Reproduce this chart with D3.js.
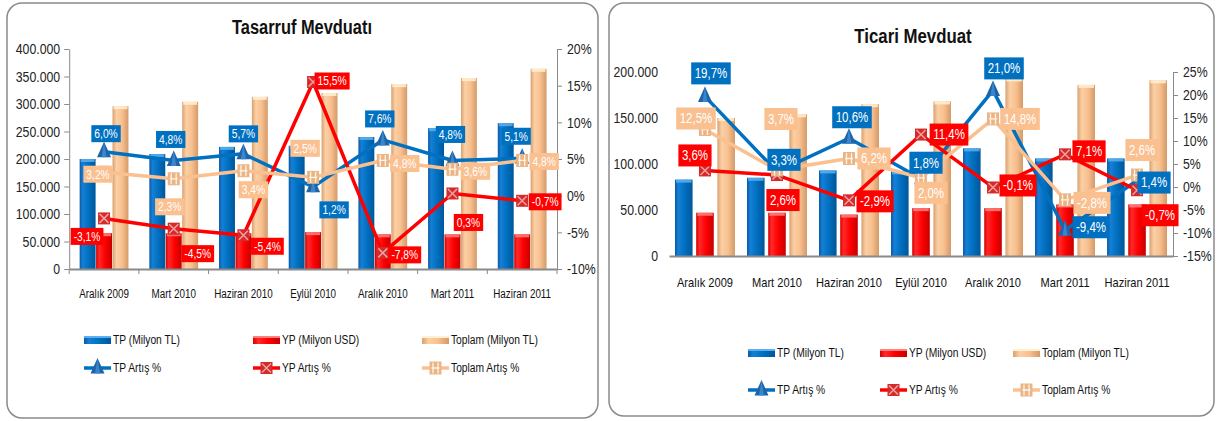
<!DOCTYPE html>
<html><head><meta charset="utf-8">
<script src="https://cdn.jsdelivr.net/npm/d3@7"></script>
<style>
html,body{margin:0;padding:0;background:#fff;}
svg{display:block;}
text{font-family:"Liberation Sans Narrow","Arial Narrow","Liberation Sans",sans-serif;}
</style></head><body>
<svg id="c" width="1219" height="421"></svg>
<script>
// ---------- DATA ----------
const categories = ["Aralık 2009","Mart 2010","Haziran 2010","Eylül 2010","Aralık 2010","Mart 2011","Haziran 2011"];
const barNames = ["TP (Milyon TL)","YP (Milyon USD)","Toplam (Milyon TL)"];
const lineNames = ["TP Artış %","YP Artış %","Toplam Artış %"];

// Tasarruf Mevduatı
const tasTitle = "Tasarruf Mevduatı";
const tasTP = [200000,209000,222000,224000,240000,256000,265000];
const tasYP = [65000,65000,65000,67000,63000,63000,63000];
const tasToplam = [296000,304000,313000,320000,336000,347000,364000];
const tasTPPct = [6.0,4.8,5.7,1.2,7.6,4.8,5.1];
const tasYPPct = [-3.1,-4.5,-5.4,15.5,-7.8,0.3,-0.7];
const tasToplamPct = [3.2,2.3,3.4,2.5,4.8,3.6,4.8];
const tasLeftTicks = [0,50000,100000,150000,200000,250000,300000,350000,400000];
const tasRightTicks = [-10,-5,0,5,10,15,20];

// Ticari Mevduat
const ticTitle = "Ticari Mevduat";
const ticTP = [83000,85000,93000,92000,117000,106000,106000];
const ticYP = [47000,47000,45000,52000,52000,56000,56000];
const ticToplam = [150000,154000,165000,168000,193000,186000,191000];
const ticTPPct = [19.7,3.3,10.6,1.8,21.0,-9.4,1.4];
const ticYPPct = [3.6,2.6,-2.9,11.4,-0.1,7.1,-0.7];
const ticToplamPct = [12.5,3.7,6.2,2.0,14.8,-2.8,2.6];
const ticLeftTicks = [0,50000,100000,150000,200000];
const ticRightTicks = [-15,-10,-5,0,5,10,15,20,25];

// ---------- LAYOUT (label box offsets from point) ----------
const tasLabelOff = [
  [[2,-18],[-3,-21],[0,-20],[21,23],[-3,-21],[-2,-26],[-6,-22]],
  [[-17,18],[24,25],[24,11],[19,-1],[22,2],[16,29],[23,1]],
  [[-6,2],[-4,28],[10,19],[-8,-29],[22,3],[23,2],[22,1]]
];
const ticLabelOff = [
  [[6,-23],[7,-12],[3,-21],[5,-16],[11,-22],[26,-3],[17,2]],
  [[-10,-15],[6,25],[26,1],[28,0],[25,-2],[24,-3],[23,25]],
  [[-9,-11],[4,-51],[25,0],[10,15],[27,0],[27,3],[5,-25]]
];
const SQ = 0.82; // horizontal condensing of text (narrow face)

const loc = d3.formatLocale({decimal:",",thousands:".",grouping:[3],currency:["",""],minus:"-"});
const fmtNum = loc.format(",");
const fmtPct = v => loc.format(".1f")(v) + "%";
const fmtAxisPct = v => loc.format("d")(v) + "%";

function squeeze(node){
  const w = node.getComputedTextLength();
  node.setAttribute("textLength", (w*SQ).toFixed(2));
  node.setAttribute("lengthAdjust","spacingAndGlyphs");
  return w*SQ;
}

const svg = d3.select("#c");
const defs = svg.append("defs");
function hGrad(id, stops){
  const g = defs.append("linearGradient").attr("id",id).attr("x1","0").attr("x2","1").attr("y1","0").attr("y2","0");
  stops.forEach(s=>g.append("stop").attr("offset",s[0]).attr("stop-color",s[1]));
}
hGrad("gBlue",[["0","#0a5aa6"],["0.2","#1580d6"],["0.55","#0070c0"],["1","#00569a"]]);
hGrad("gRed",[["0","#d80000"],["0.2","#ff2a2a"],["0.55","#ff0000"],["1","#c80000"]]);
hGrad("gTan",[["0","#d9a070"],["0.25","#fcd0a4"],["0.6","#f8c090"],["1","#d49a68"]]);
const barFill = ["url(#gBlue)","url(#gRed)","url(#gTan)"];
const capFill = ["#5ab0f0","#ff8080","#fff0d2"];
const lineColor = ["#0070c0","#ff0000","#fac090"];
const labelFill = ["#0070c0","#ff0000","#fac090"];

function marker(g, type, x, y){
  if(type===0){
    g.append("path").attr("d",`M${x},${y-10}L${x-7},${y+5.5}L${x+7},${y+5.5}Z`).attr("fill","#1f64a8");
    g.append("path").attr("d",`M${x},${y-10}L${x-2.5},${y+5.5}L${x+2.5},${y+5.5}Z`).attr("fill","#3a86cc");
  } else if(type===1){
    g.append("rect").attr("x",x-6).attr("y",y-6).attr("width",12).attr("height",12).attr("fill","#d42a2a");
    g.append("path").attr("d",`M${x-4.5},${y-4.5}L${x+4.5},${y+4.5}M${x+4.5},${y-4.5}L${x-4.5},${y+4.5}`).attr("stroke","#f4a0a0").attr("stroke-width",1.5);
  } else {
    g.append("rect").attr("x",x-6).attr("y",y-6.5).attr("width",12).attr("height",13).attr("fill","#e9b588");
    g.append("path").attr("d",`M${x-2.5},${y-5.5}L${x-2.5},${y+5.5}M${x+2.5},${y-5.5}L${x+2.5},${y+5.5}M${x-4},${y}L${x+4},${y}`).attr("stroke","#fff3e0").attr("stroke-width",1.3);
  }
}

function drawChart(cfg){
  const g = svg.append("g");
  // panel
  g.append("rect").attr("x",cfg.panel[0]).attr("y",cfg.panel[1]).attr("width",cfg.panel[2]).attr("height",cfg.panel[3])
    .attr("rx",15).attr("fill","#fff").attr("stroke","#8a8a8a").attr("stroke-width",1.5);
  g.append("text").attr("x",cfg.titleX).attr("y",cfg.titleY).attr("text-anchor","middle")
    .attr("font-size",cfg.titleSize).attr("font-weight","bold").attr("fill","#111").text(cfg.title);

  const x = d3.scaleBand().domain(categories).range([cfg.x0,cfg.x1]).paddingInner(cfg.padIn).paddingOuter(cfg.padOut);
  const xs = d3.scaleBand().domain([0,1,2]).range([0,x.bandwidth()]).paddingInner(cfg.barGap).paddingOuter(0);
  const yL = d3.scaleLinear().domain([0,cfg.leftMax]).range([cfg.yBase,cfg.yTop]);
  const yR = d3.scaleLinear().domain([cfg.rMin,cfg.rMax]).range([cfg.yBase,cfg.yTop]);

  // left axis
  const ax = d3.axisLeft(yL).tickValues(cfg.leftTicks).tickFormat(fmtNum).tickSize(cfg.leftTickSize).tickSizeOuter(0).tickPadding(cfg.leftPad);
  const ag = g.append("g").attr("transform",`translate(${cfg.x0},0)`).call(ax);
  ag.attr("font-family",null);
  ag.selectAll("text").attr("font-size",cfg.axisFont).attr("fill","#222");
  ag.selectAll("line").attr("stroke","#8a8a8a");
  ag.select(".domain").attr("stroke",cfg.leftDomain?"#8a8a8a":"none");

  // right axis
  const ar = d3.axisRight(yR).tickValues(cfg.rightTicks).tickFormat(fmtAxisPct).tickSize(5).tickSizeOuter(0).tickPadding(5);
  const rg = g.append("g").attr("transform",`translate(${cfg.x1},0)`).call(ar);
  rg.attr("font-family",null);
  rg.selectAll("text").attr("font-size",cfg.axisFont).attr("fill","#222");
  rg.selectAll("line").attr("stroke","#8a8a8a");
  rg.select(".domain").attr("stroke","#8a8a8a");

  // bars
  const series = [cfg.tp,cfg.yp,cfg.top];
  series.forEach((vals,si)=>{
    const bg = g.append("g");
    vals.forEach((v,i)=>{
      const bx = x(categories[i]) + xs(si), bw = xs.bandwidth();
      bg.append("rect").attr("x",bx).attr("y",yL(v)).attr("width",bw).attr("height",yL(0)-yL(v)).attr("fill",barFill[si]);
      bg.append("rect").attr("x",bx+1).attr("y",yL(v)).attr("width",bw-2).attr("height",3).attr("fill",capFill[si]).attr("opacity",0.85);
    });
  });

  // baseline + bottom axis
  const bx = d3.axisBottom(x).tickSize(0).tickPadding(cfg.xLabelPad).tickSizeOuter(0);
  const bgAx = g.append("g").attr("transform",`translate(0,${cfg.yBase})`).call(bx);
  bgAx.attr("font-family",null);
  bgAx.selectAll("text").attr("font-size",cfg.xFont).attr("fill","#111");
  bgAx.select(".domain").attr("stroke","#8a8a8a").attr("stroke-width",2);
  if(cfg.catTicks){
    const step = x.step();
    for(let i=0;i<=categories.length;i++){
      const tx = cfg.x0 + i*step;
      g.append("line").attr("x1",tx).attr("x2",tx).attr("y1",cfg.yBase).attr("y2",cfg.yBase+5).attr("stroke","#8a8a8a");
    }
  }

  // lines
  const pcts = [cfg.tpP,cfg.ypP,cfg.topP];
  const cx = i => x(categories[i]) + x.bandwidth()/2;
  const line = d3.line().x((d,i)=>cx(i)).y(d=>yR(d));
  pcts.forEach((vals,si)=>{
    g.append("path").datum(vals).attr("d",line).attr("fill","none").attr("stroke",lineColor[si])
      .attr("stroke-width",3.5).attr("stroke-linejoin","round");
  });
  pcts.forEach((vals,si)=>{
    const mg = g.append("g");
    vals.forEach((v,i)=>marker(mg,si,cx(i),yR(v)));
  });
  // labels
  pcts.forEach((vals,si)=>{
    vals.forEach((v,i)=>{
      const off = cfg.labelOff[si][i];
      const lx = cx(i)+off[0], ly = yR(v)+off[1];
      const lg = g.append("g");
      const r = lg.append("rect").attr("fill",labelFill[si]);
      const t = lg.append("text").attr("x",lx).attr("y",ly).attr("dy","0.35em").attr("text-anchor","middle")
        .attr("font-size",cfg.labelFont).attr("fill","#fff").text(fmtPct(v));
      const w = squeeze(t.node()) + cfg.labelPadX*2;
      t.classed("sqd",true);
      r.attr("x",lx-w/2).attr("y",ly-cfg.labelH/2).attr("width",w).attr("height",cfg.labelH);
    });
  });

  // legend
  const lg = g.append("g");
  barNames.forEach((n,si)=>{
    const lx = cfg.legX[si], ly = cfg.legY[0];
    lg.append("rect").attr("x",lx).attr("y",ly-4).attr("width",27).attr("height",8).attr("fill",barFill[si]);
    lg.append("rect").attr("x",lx).attr("y",ly-4).attr("width",27).attr("height",2).attr("fill",capFill[si]);
    lg.append("text").attr("x",lx+29).attr("y",ly).attr("dy","0.35em").attr("font-size",cfg.legFont).attr("fill","#111").text(n);
  });
  lineNames.forEach((n,si)=>{
    const lx = cfg.legX[si], ly = cfg.legY[1];
    lg.append("line").attr("x1",lx).attr("x2",lx+27).attr("y1",ly).attr("y2",ly).attr("stroke",lineColor[si]).attr("stroke-width",3.5);
    marker(lg,si,lx+13.5,ly);
    lg.append("text").attr("x",lx+29).attr("y",ly).attr("dy","0.35em").attr("font-size",cfg.legFont).attr("fill","#111").text(n);
  });
}

drawChart({
  panel:[7,3,591,415], title:tasTitle, titleX:302, titleY:34, titleSize:20,
  x0:69.2, x1:557, padIn:0.3, padOut:0.15, barGap:0.03,
  yBase:269, yTop:49, leftMax:400000, rMin:-10, rMax:20,
  leftTicks:tasLeftTicks, rightTicks:tasRightTicks, leftTickSize:5, leftPad:4, leftDomain:true, catTicks:true,
  axisFont:15, xFont:12, xLabelPad:20, labelFont:12.5, labelH:17, labelPadX:3, legFont:12.5,
  tp:tasTP, yp:tasYP, top:tasToplam, tpP:tasTPPct, ypP:tasYPPct, topP:tasToplamPct,
  labelOff:tasLabelOff, legX:[84,253,422], legY:[340,368]
});
drawChart({
  panel:[609,3,605,413], title:ticTitle, titleX:913, titleY:43, titleSize:20.5,
  x0:669, x1:1173, padIn:0.167, padOut:0.083, barGap:0.17,
  yBase:256, yTop:72, leftMax:200000, rMin:-15, rMax:25,
  leftTicks:ticLeftTicks, rightTicks:ticRightTicks, leftTickSize:0, leftPad:11, leftDomain:false, catTicks:false,
  axisFont:15, xFont:13.5, xLabelPad:21, labelFont:14, labelH:22, labelPadX:3.5, legFont:12.5,
  tp:ticTP, yp:ticYP, top:ticToplam, tpP:ticTPPct, ypP:ticYPPct, topP:ticToplamPct,
  labelOff:ticLabelOff, legX:[748,880,1013], legY:[353,390]
});
// condense all remaining text (narrow face look)
svg.selectAll("text:not(.sqd)").each(function(){ squeeze(this); });
</script></body></html>
